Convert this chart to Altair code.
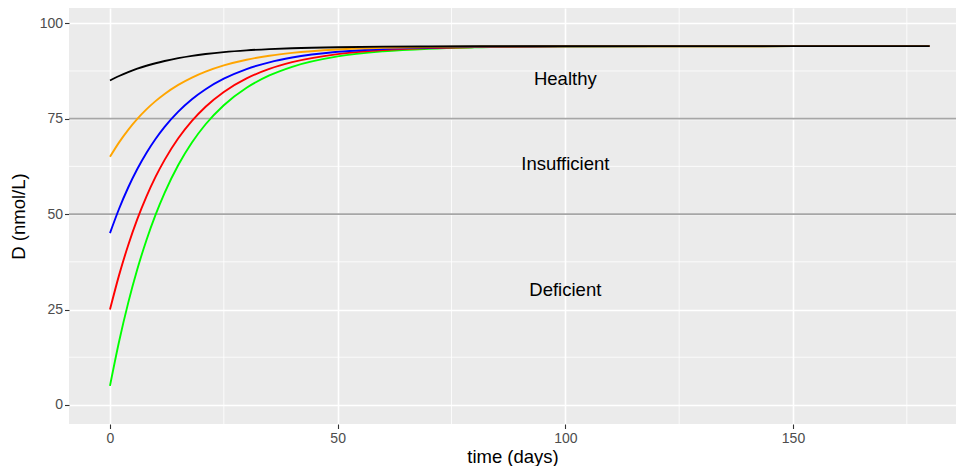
import altair as alt
import pandas as pd

# sampled readings of each curve (days, nmol/L)
time = [0, 2, 4, 6, 8, 10, 12, 15, 18, 21, 25, 30, 35, 40, 50, 60, 70, 80, 100, 120, 150, 180]
black = [85, 86.18, 87.2, 88.09, 88.86, 89.53, 90.11, 90.85, 91.45, 91.93, 92.44, 92.9, 93.22, 93.45, 93.73, 93.87, 93.93, 93.97, 94, 94, 94, 94]
orange = [65, 68.79, 72.08, 74.95, 77.44, 79.6, 81.48, 83.85, 85.77, 87.33, 88.96, 90.45, 91.5, 92.24, 93.12, 93.57, 93.79, 93.89, 93.97, 94, 94, 94]
blue = [45, 51.4, 56.97, 61.8, 66.01, 69.67, 72.85, 76.85, 80.1, 82.73, 85.48, 88.0, 89.77, 91.02, 92.52, 93.27, 93.64, 93.82, 93.96, 94, 94, 94]
red = [25, 34.01, 41.85, 48.67, 54.59, 59.74, 64.21, 69.86, 74.42, 78.14, 82.01, 85.55, 88.04, 89.8, 91.92, 92.97, 93.49, 93.74, 93.94, 93.98, 94, 94]
green = [5, 16.62, 26.74, 35.53, 43.16, 49.8, 55.58, 62.86, 68.75, 73.54, 78.53, 83.1, 86.32, 88.59, 91.31, 92.66, 93.34, 93.67, 93.92, 93.98, 94, 94]

series = [("green", "#00FF00", green), ("red", "#FF0000", red), ("blue", "#0000FF", blue),
          ("orange", "#FFA500", orange), ("black", "#000000", black)]

thresholds = [50, 75]
zone_labels = ["Healthy", "Insufficient", "Deficient"]
zone_x = [100, 100, 100]
zone_y = [85.5, 63, 30]

x_major = [0, 50, 100, 150]
x_minor = [25, 75, 125, 175]
y_major = [0, 25, 50, 75, 100]
y_minor = [12.5, 37.5, 62.5, 87.5]

xscale = alt.Scale(domain=[-9, 185.8], nice=False, zero=False)
yscale = alt.Scale(domain=[-5, 104], nice=False, zero=False)

xaxis = alt.Axis(values=x_major, title="time (days)", grid=True, gridColor="white", gridWidth=1.6,
                 domain=False, tickColor="#333333", tickSize=4.5, tickWidth=1.1,
                 labelFontSize=14, labelColor="#4D4D4D", labelPadding=2.5,
                 titleFontSize=18.5, titleFontWeight="normal", titleColor="black", titlePadding=2)
yaxis = alt.Axis(values=y_major, title="D (nmol/L)", grid=True, gridColor="white", gridWidth=1.6,
                 domain=False, tickColor="#333333", tickSize=4.5, tickWidth=1.1,
                 labelFontSize=14, labelColor="#4D4D4D", labelPadding=2,
                 titleFontSize=18.5, titleFontWeight="normal", titleColor="black", titlePadding=11)


def X(field):
    return alt.X(field, type="quantitative", scale=xscale, axis=xaxis)


def Y(field):
    return alt.Y(field, type="quantitative", scale=yscale, axis=yaxis)


minor_v = alt.Chart(pd.DataFrame({"t": x_minor})).mark_rule(color="white", strokeWidth=0.8).encode(x=X("t"))
minor_h = alt.Chart(pd.DataFrame({"d": y_minor})).mark_rule(color="white", strokeWidth=0.8).encode(y=Y("d"))
hlines = alt.Chart(pd.DataFrame({"d": thresholds})).mark_rule(color="#A6A6A6", strokeWidth=1.7).encode(y=Y("d"))

layers = [minor_v, minor_h, hlines]
for name, col, vals in series:
    df = pd.DataFrame({"t": time, "d": vals})
    layers.append(alt.Chart(df).mark_line(color=col, strokeWidth=1.9, interpolate="monotone", clip=True)
                  .encode(x=X("t"), y=Y("d")))

labels = (alt.Chart(pd.DataFrame({"t": zone_x, "d": zone_y, "lab": zone_labels}))
          .mark_text(fontSize=18.5, color="black", align="center", baseline="middle")
          .encode(x=X("t"), y=Y("d"), text="lab:N"))
layers.append(labels)

chart = (alt.layer(*layers)
         .properties(width=887, height=416, autosize=alt.AutoSizeParams(type="none"),
                     padding={"left": 61, "top": 0, "right": 0, "bottom": 42})
         .configure(font="Liberation Sans")
         .configure_view(fill="#EBEBEB", strokeWidth=0))

chart.save("out.html", embed_options={"renderer": "svg", "actions": False})
